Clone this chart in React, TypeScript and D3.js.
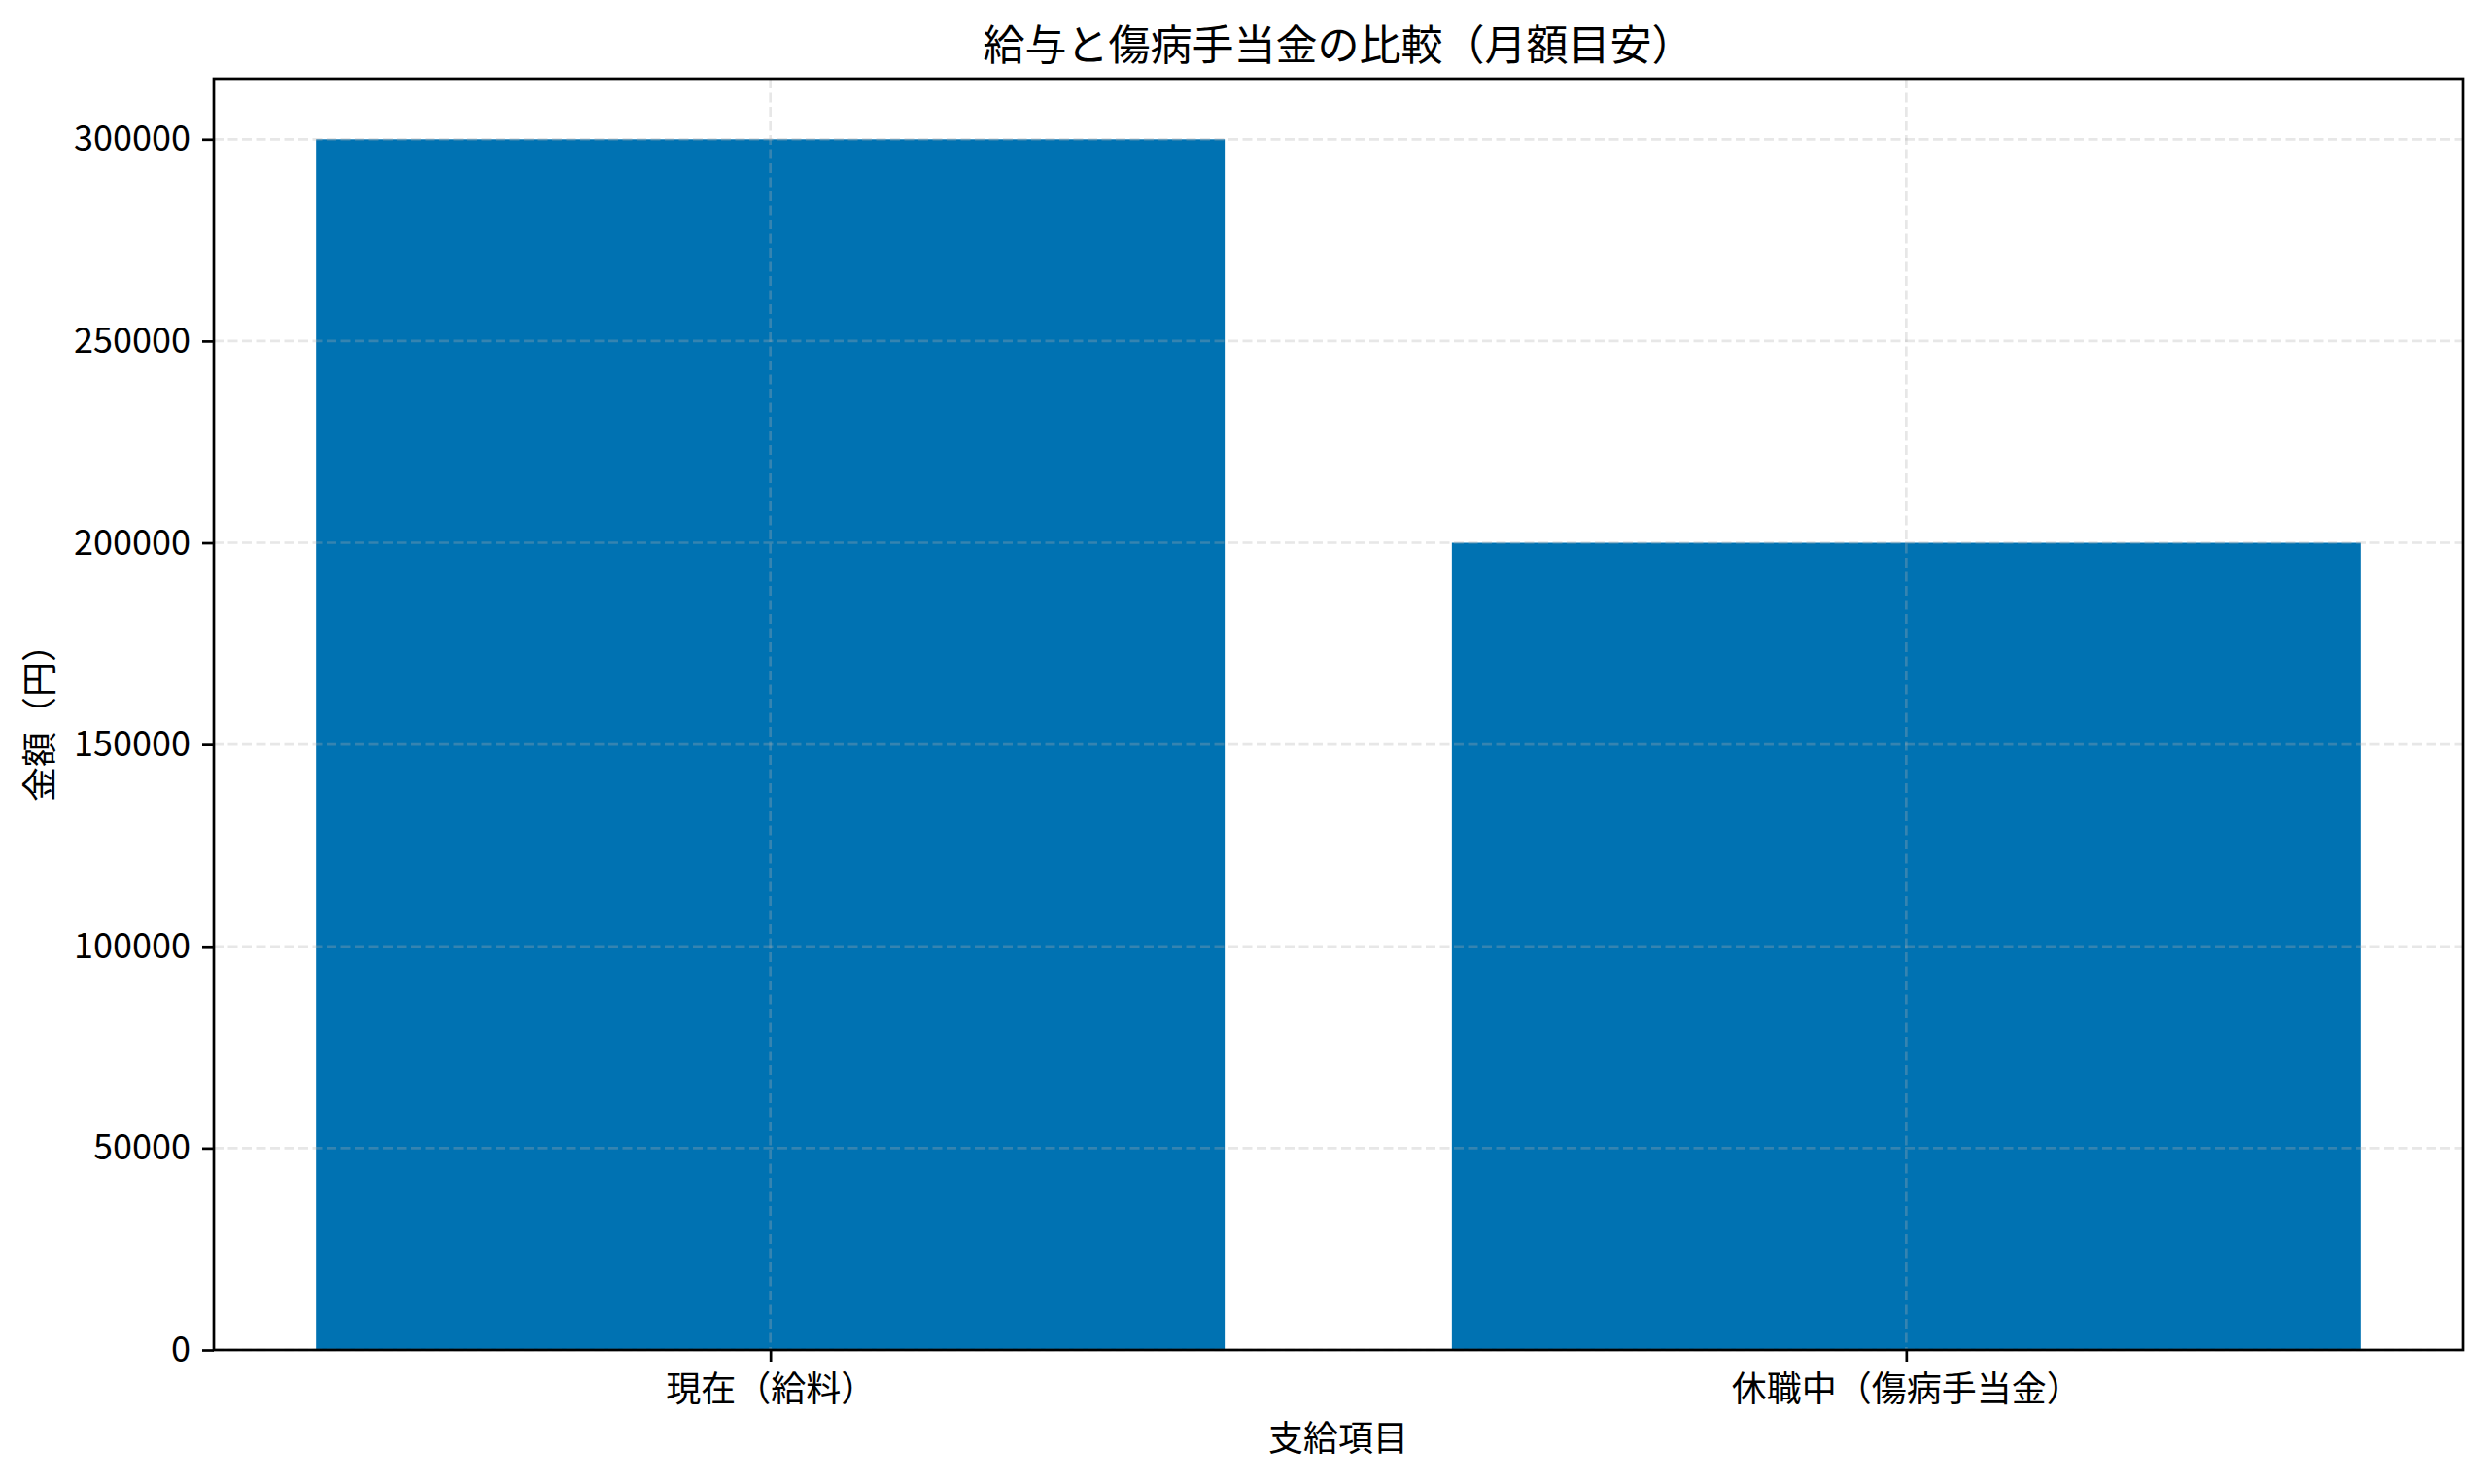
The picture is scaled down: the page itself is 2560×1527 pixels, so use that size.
import { useRef, useEffect } from "react";
import * as d3 from "d3";

const categories = ["現在（給料）", "休職中（傷病手当金）"];
const amounts = [300000, 200000];
const yTicks = [0, 50000, 100000, 150000, 200000, 250000, 300000];

const title = "給与と傷病手当金の比較（月額目安）";
const xLabel = "支給項目";
const yLabel = "金額（円）";

const barColor = "#0072b2";
const font = '"Noto Sans CJK JP", "Noto Sans", sans-serif';

export default function App() {
  const svgRef = useRef<SVGSVGElement>(null);

  const width = 2560;
  const height = 1527;
  const margin = { top: 81, right: 26, bottom: 138, left: 220 };

  useEffect(() => {
    if (!svgRef.current) return;

    const svg = d3.select(svgRef.current);
    svg.selectAll("*").remove();

    const innerW = width - margin.left - margin.right;
    const innerH = height - margin.top - margin.bottom;

    svg
      .append("rect")
      .attr("width", width)
      .attr("height", height)
      .attr("fill", "#ffffff");

    const g = svg
      .append("g")
      .attr("transform", `translate(${margin.left},${margin.top})`);

    // matplotlib-like limits: bars 0.8 wide, 5% margin on each side
    const x = d3
      .scaleLinear()
      .domain([-0.49, categories.length - 1 + 0.49])
      .range([0, innerW]);

    const y = d3
      .scaleLinear()
      .domain([0, (d3.max(amounts) ?? 1) * 1.05])
      .range([innerH, 0]);

    // Bars
    g.selectAll("rect.bar")
      .data(amounts)
      .join("rect")
      .attr("class", "bar")
      .attr("x", (_, i) => x(i - 0.4))
      .attr("width", x(0.4) - x(-0.4))
      .attr("y", (d) => y(d))
      .attr("height", (d) => y(0) - y(d))
      .attr("fill", barColor);

    // Grid (drawn over the bars, as in the reference)
    const grid = g.append("g").attr("stroke", "#b0b0b0").attr("stroke-opacity", 0.3)
      .attr("stroke-width", 2.7).attr("stroke-dasharray", "10,4.5");

    grid
      .selectAll("line.hgrid")
      .data(yTicks)
      .join("line")
      .attr("class", "hgrid")
      .attr("x1", 0)
      .attr("x2", innerW)
      .attr("y1", (d) => y(d))
      .attr("y2", (d) => y(d));

    grid
      .selectAll("line.vgrid")
      .data(categories.map((_, i) => i))
      .join("line")
      .attr("class", "vgrid")
      .attr("x1", (d) => x(d))
      .attr("x2", (d) => x(d))
      .attr("y1", 0)
      .attr("y2", innerH);

    // Axes
    const styleAxis = (sel: d3.Selection<SVGGElement, unknown, null, undefined>) => {
      sel.select(".domain").remove();
      sel.selectAll(".tick line").attr("stroke", "#000").attr("stroke-width", 2.7);
      sel
        .selectAll(".tick text")
        .attr("fill", "#000")
        .attr("font-size", 36)
        .attr("font-family", font);
    };

    g.append("g")
      .call(
        d3
          .axisLeft(y)
          .tickValues(yTicks)
          .tickSize(12)
          .tickPadding(12)
          .tickFormat((d) => d3.format("d")(d as number))
      )
      .call(styleAxis);

    g.append("g")
      .attr("transform", `translate(0,${innerH})`)
      .call(
        d3
          .axisBottom(x)
          .tickValues(categories.map((_, i) => i))
          .tickSize(12)
          .tickPadding(15)
          .tickFormat((d) => categories[d as number])
      )
      .call(styleAxis);

    // Frame
    g.append("rect")
      .attr("width", innerW)
      .attr("height", innerH)
      .attr("fill", "none")
      .attr("stroke", "#000")
      .attr("stroke-width", 2.7);

    // Title and labels
    svg
      .append("text")
      .attr("x", margin.left + innerW / 2)
      .attr("y", 62)
      .attr("text-anchor", "middle")
      .attr("font-size", 43)
      .attr("font-family", font)
      .attr("fill", "#000")
      .text(title);

    svg
      .append("text")
      .attr("x", margin.left + innerW / 2)
      .attr("y", 1493)
      .attr("text-anchor", "middle")
      .attr("font-size", 36)
      .attr("font-family", font)
      .attr("fill", "#000")
      .text(xLabel);

    svg
      .append("text")
      .attr("transform", `translate(54,${margin.top + innerH / 2}) rotate(-90)`)
      .attr("text-anchor", "middle")
      .attr("font-size", 36)
      .attr("font-family", font)
      .attr("fill", "#000")
      .text(yLabel);
  }, []);

  return (
    <svg
      ref={svgRef}
      width={width}
      height={height}
      viewBox={`0 0 ${width} ${height}`}
      style={{ position: "absolute", left: 0, top: 0 }}
    />
  );
}
